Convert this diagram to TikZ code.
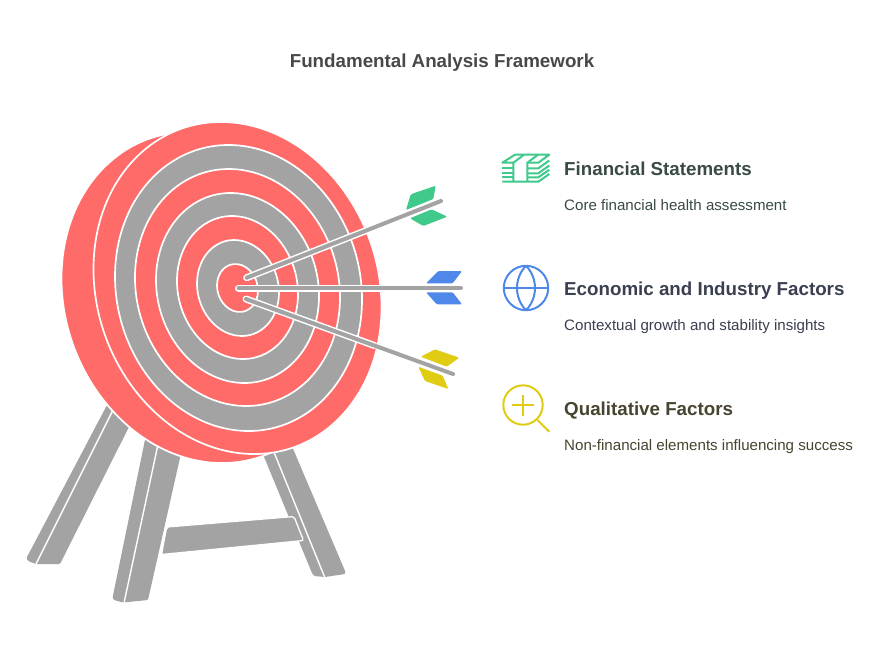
\documentclass[tikz,border=0pt]{standalone}
\usepackage{fontspec}
\usetikzlibrary{calc}
\setmainfont{Liberation Sans}
\definecolor{tred}{HTML}{FF6B68}
\definecolor{tgrey}{HTML}{A3A3A3}
\definecolor{tgreen}{HTML}{3FC98A}
\definecolor{tblue}{HTML}{4F88E8}
\definecolor{tyellow}{HTML}{E0CC12}
\definecolor{ctitle}{HTML}{484848}
\definecolor{cgreen}{HTML}{3A4A44}
\definecolor{cblue}{HTML}{3A4050}
\definecolor{cyellow}{HTML}{484430}
\newcommand\disc[6]{% cx cy W H s colour
  \pgfmathsetmacro\discD{10*sqrt((#4/10)*(#4/10)-(#5/10)*(#5/10))}
  \draw[white,line width=1.7pt,fill=#6,cm={#3,-#5,0,\discD,(#1,#2)}] (0,0) circle[radius=1];
}
\tikzset{
  leg/.style={fill=tgrey,draw=none,rounded corners=1.2pt},
  legline/.style={draw=white,line width=1.4pt},
  shaftw/.style={draw=white,line width=7pt,line cap=round},
  shaftg/.style={draw=tgrey,line width=4pt,line cap=round},
  fletch/.style={draw=none,rounded corners=1.2pt},
  heading/.style={anchor=base west,inner sep=0pt,font=\fontsize{18.75}{22}\selectfont\bfseries},
  sub/.style={anchor=base west,inner sep=0pt,font=\fontsize{15.1}{18}\selectfont},
  icon/.style={line width=2pt,fill=none}
}
\begin{document}
\begin{tikzpicture}[x=1pt,y=-1pt]
\useasboundingbox[fill=white] (0,0) rectangle (888,654);
\node[anchor=base,inner sep=0pt,text=ctitle,font=\fontsize{18.76}{24}\selectfont\bfseries] (title) at (442,67.5) {Fundamental Analysis Framework};
% legs
\fill[leg] (107,405) -- (26.5,558) -- (28,561) -- (36,564) -- (60,564) -- (140,405) -- cycle;
\draw[legline] (118,400) -- (36,564);
\fill[leg] (147,430) -- (112.5,598) -- (114,600) -- (123,602.5) -- (148,600) -- (184,440) -- cycle;
\draw[legline] (160,435) -- (124,603);
\fill[leg] (255,435) -- (312,573) -- (314,576) -- (325,577) -- (345,574) -- (345.5,572) -- (285,430) -- cycle;
\draw[legline] (265,430) -- (325,578);
\draw[white,line width=1.3pt,fill=tgrey,rounded corners=2pt] (166.7,527) -- (294,516.5) -- (303.5,540.5) -- (161.5,554.5) -- cycle;
% target
\disc{205.5}{297.5}{144}{165.5}{19}{tred}
\disc{237.5}{288}{144}{166}{19}{tred}
\disc{238.5}{288}{123.5}{143}{11.5}{tgrey}
\disc{237.5}{287.5}{102.5}{118.5}{10}{tred}
\disc{237.5}{288}{81.5}{95}{8}{tgrey}
\disc{237.5}{287.5}{60.5}{71.5}{6.5}{tred}
\disc{238}{288}{41}{48}{4.5}{tgrey}
\disc{237.5}{288}{20.5}{24}{2.5}{tred}
% fletchings
\fill[fletch,tgreen] (435.7,185.7) -- (433.3,199) -- (406,210) -- (410.7,194.3) -- cycle;
\fill[fletch,tgreen] (410,218.3) -- (431.7,209.3) -- (447.3,216.7) -- (423.3,226) -- cycle;
\fill[fletch,tblue] (438.3,271) -- (462,271) -- (452.7,283.3) -- (426,283.3) -- cycle;
\fill[fletch,tblue] (426,292.3) -- (452.7,292.3) -- (462,304.3) -- (436.7,304.3) -- cycle;
\fill[fletch,tyellow] (420.7,356.7) -- (435,349.3) -- (459.3,357.7) -- (446.7,366.7) -- cycle;
\fill[fletch,tyellow] (418.3,366.7) -- (442.7,375.7) -- (448.3,389) -- (425,381) -- cycle;
% shafts
\coordinate (gs) at (246.7,277.7); \coordinate (ge) at (441,201);
\coordinate (bs) at (238.5,288); \coordinate (be) at (461,288);
\coordinate (ys) at (246,299); \coordinate (ye) at (453,374);
\draw[shaftw] (gs) -- ($(gs)!0.62!(ge)$);
\draw[shaftw] (bs) -- ($(bs)!0.65!(be)$);
\draw[shaftw] (ys) -- ($(ys)!0.62!(ye)$);
\draw[shaftg] (gs) -- (ge);
\draw[shaftg] (bs) -- (be);
\draw[shaftg] (ys) -- (ye);
% icon: money
\begin{scope}[tgreen,icon,line join=round]
\draw (513.3,162.7) -- (502.3,162.7) -- (515,154.7) -- (549.3,154.7) -- (538.3,162.7) -- (527.3,162.7);
\draw (502.3,168.3) -- (513.3,168.3);
\draw (502.3,173.3) -- (513.3,173.3);
\draw (502.3,177.3) -- (513.3,177.3);
\draw (502.3,181.7) -- (538.3,181.7) -- (549.3,174);
\draw (527.3,168.3) -- (538.3,168.3) -- (549.3,160.5);
\draw (527.3,173.3) -- (538.3,173.3) -- (549.3,165.5);
\draw (527.3,177.3) -- (538.3,177.3) -- (549.3,169.8);
\draw (513.3,181.7) -- (513.3,162.7) -- (524,154.7);
\draw (527.3,181.7) -- (527.3,162.7) -- (538,154.7);
\end{scope}
% icon: globe
\begin{scope}[tblue,icon]
\draw (526,288) circle[radius=22.2];
\draw (503.8,288) -- (548.2,288);
\draw (526,265.8) .. controls (514,278) and (514,298) .. (526,310.2);
\draw (526,265.8) .. controls (538,278) and (538,298) .. (526,310.2);
\end{scope}
% icon: magnifier
\begin{scope}[tyellow,icon]
\draw (523,405) circle[radius=19.7];
\draw (512.3,405) -- (534,405);
\draw (522.7,395) -- (522.7,415.7);
\draw (537.5,420) -- (549.3,431.7);
\end{scope}
% texts
\node[heading,text=cgreen] (h1) at (564,175) {Financial Statements};
\node[sub,text=cgreen] (s1) at (564,210) {Core financial health assessment};
\node[heading,text=cblue] (h2) at (564,295) {Economic and Industry Factors};
\node[sub,text=cblue] (s2) at (564,330) {Contextual growth and stability insights};
\node[heading,text=cyellow] (h3) at (564,415) {Qualitative Factors};
\node[sub,text=cyellow] (s3) at (564,450) {Non-financial elements influencing success};
\end{tikzpicture}
\end{document}
